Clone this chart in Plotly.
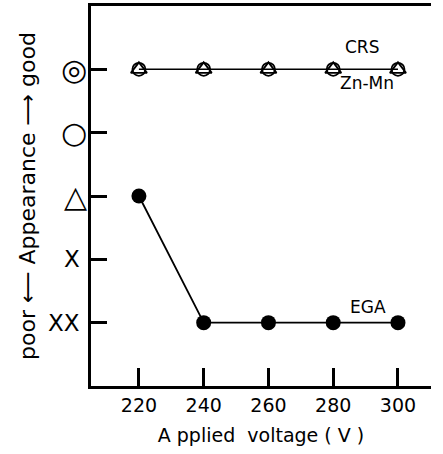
import plotly.graph_objects as go

voltages = [220, 240, 260, 280, 300]
crs_values = [5, 5, 5, 5, 5]
znmn_values = [5, 5, 5, 5, 5]
ega_values = [3, 1, 1, 1, 1]

y_levels = [1, 2, 3, 4, 5]
y_labels = ["XX", "X", "△", "○", "◎"]
x_ticks = [220, 240, 260, 280, 300]

FONT = "DejaVu Sans"

fig = go.Figure()
fig.add_trace(go.Scatter(x=voltages, y=crs_values, mode="lines+markers",
                         line=dict(color="black", width=1.5),
                         marker=dict(symbol="triangle-up-open", size=14, color="black",
                                     line=dict(width=1.8, color="black")),
                         showlegend=False))
fig.add_trace(go.Scatter(x=voltages, y=znmn_values, mode="markers",
                         marker=dict(symbol="circle-open", size=13, color="black",
                                     line=dict(width=1.8, color="black")),
                         showlegend=False))
fig.add_trace(go.Scatter(x=voltages, y=ega_values, mode="lines+markers",
                         line=dict(color="black", width=1.8),
                         marker=dict(symbol="circle", size=15, color="black"),
                         showlegend=False))

# y-axis category labels as annotations (symbols larger than X marks)
for lvl, lab in zip(y_levels, y_labels):
    is_x = "X" in lab
    fig.add_annotation(xref="paper", yref="y", x=0, y=lvl, text=lab, showarrow=False,
                       xanchor="right", yanchor="middle",
                       xshift=-9 if is_x else -2,
                       font=dict(family=FONT, size=23 if is_x else 30, color="black"))

fig.add_annotation(x=288.8, y=5.35, text="CRS", showarrow=False,
                   font=dict(family=FONT, size=17, color="black"))
fig.add_annotation(x=290.5, y=4.78, text="Zn-Mn", showarrow=False,
                   font=dict(family=FONT, size=17, color="black"))
fig.add_annotation(x=290.7, y=1.24, text="EGA", showarrow=False,
                   font=dict(family=FONT, size=17, color="black"))

fig.update_xaxes(range=[205.2, 310.2], tickvals=x_ticks, ticktext=[str(v) for v in x_ticks],
                 ticks="inside", ticklen=18, tickwidth=2.5, tickcolor="black",
                 showline=True, linewidth=3, linecolor="black", mirror=True,
                 showgrid=False, zeroline=False, automargin=False,
                 tickfont=dict(family=FONT, size=19, color="black"),
                 title=dict(text="A pplied  voltage ( V )", standoff=14,
                            font=dict(family=FONT, size=19, color="black")))
fig.update_yaxes(range=[0, 6], tickvals=y_levels, showticklabels=False,
                 ticks="inside", ticklen=16, tickwidth=2.5, tickcolor="black",
                 showline=True, linewidth=3, linecolor="black", mirror=False,
                 showgrid=False, zeroline=False, automargin=False,
                 title=dict(text="poor ⟵ Appearance ⟶ good", standoff=47,
                            font=dict(family=FONT, size=22, color="black")))

fig.update_layout(width=443, height=454, margin=dict(l=91, r=12, t=6, b=68),
                  plot_bgcolor="white", paper_bgcolor="white")

fig.write_html("out.html", config={"displayModeBar": False},
               post_script="document.body.style.margin='0';document.body.style.overflow='hidden';")
